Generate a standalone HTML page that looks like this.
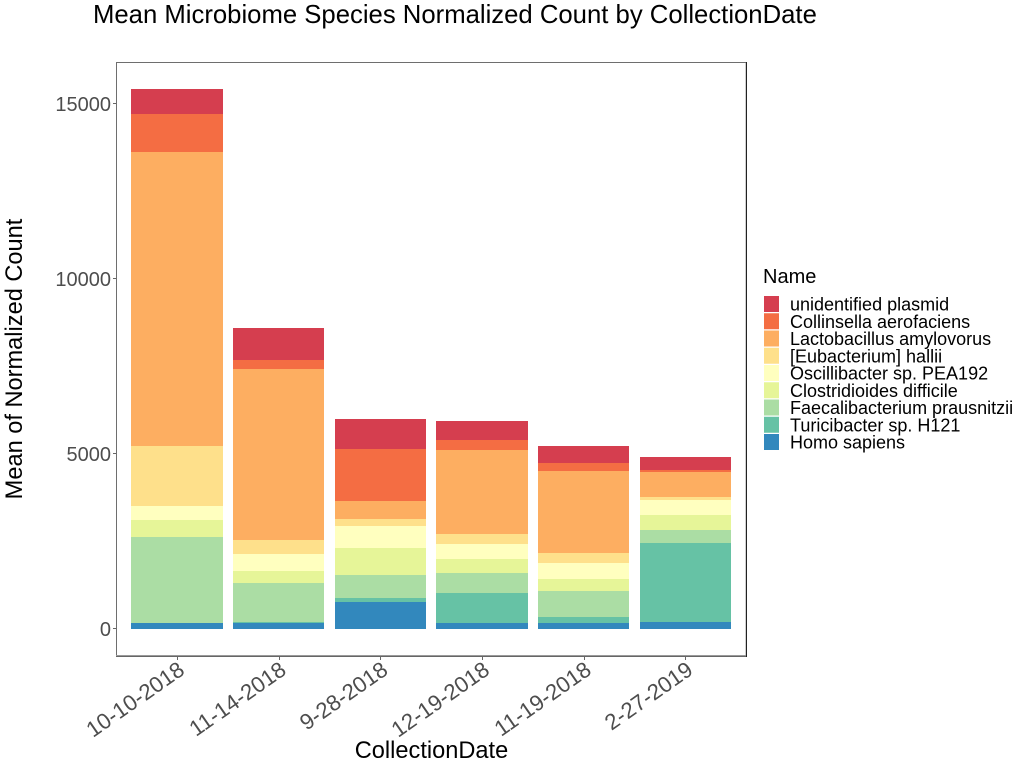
<!DOCTYPE html>
<html lang="en">
<head>
<meta charset="utf-8">
<title>Mean Microbiome Species Normalized Count by CollectionDate</title>
<style>
html,body{margin:0;padding:0;background:#fff;width:1024px;height:768px;overflow:hidden}
svg{display:block;font-family:"Liberation Sans",sans-serif}
</style>
</head>
<body>
<svg id="chart" width="1024" height="768" viewBox="0 0 1024 768" xmlns="http://www.w3.org/2000/svg"></svg>
<script>
const categories = ['10-10-2018','11-14-2018','9-28-2018','12-19-2018','11-19-2018','2-27-2019'];
const yTicks = [0,5000,10000,15000];
const yTickLabels = ['0','5000','10000','15000'];
const seriesNames = ['unidentified plasmid','Collinsella aerofaciens','Lactobacillus amylovorus','[Eubacterium] hallii','Oscillibacter sp. PEA192','Clostridioides difficile','Faecalibacterium prausnitzii','Turicibacter sp. H121','Homo sapiens'];
const seriesColors = ['#D53E4F','#F46D43','#FDAE61','#FEE08B','#FFFFBF','#E6F598','#ABDDA4','#66C2A5','#3288BD'];
const unidentifiedPlasmid = [714,914,857,543,486,371];
const collinsellaAerofaciens = [1086,257,1486,286,229,57];
const lactobacillusAmylovorus = [8400,4886,514,2400,2343,714];
const eubacteriumHallii = [1714,400,200,286,286,86];
const oscillibacterPEA192 = [400,486,629,429,457,429];
const clostridioidesDifficile = [486,343,771,400,343,429];
const faecalibacteriumPrausnitzii = [2457,1114,657,571,743,371];
const turicibacterH121 = [0,29,114,857,171,2257];
const homoSapiens = [171,171,771,171,171,200];
const seriesValues = [unidentifiedPlasmid,collinsellaAerofaciens,lactobacillusAmylovorus,eubacteriumHallii,oscillibacterPEA192,clostridioidesDifficile,faecalibacteriumPrausnitzii,turicibacterH121,homoSapiens];

const NS = 'http://www.w3.org/2000/svg';
const svg = document.getElementById('chart');
const panel = {left:116, right:746, top:62, bottom:656};
const bandStep = 101.68;
const bandWidth = 91.5;
function xScale(i){ return 177 + bandStep * i; }
function yScale(v){ return 629 - v * 0.035; }
function add(tag, attrs, parent, text){
  const el = document.createElementNS(NS, tag);
  for (const k in attrs) el.setAttribute(k, attrs[k]);
  if (text !== undefined) el.textContent = text;
  (parent || svg).appendChild(el);
  return el;
}
function slug(s){ return s.toLowerCase().replace(/[^a-z0-9]+/g,'-').replace(/^-|-$/g,''); }

const title = add('text', {x:93, y:23, 'font-size':25.7, fill:'#000'}, svg, 'Mean Microbiome Species Normalized Count by CollectionDate');



const barsGroup = add('g', {'shape-rendering':'crispEdges'});


categories.forEach(function(cat, i){
  let cumulative = 0;
  const x1 = Math.round(xScale(i) - bandWidth / 2);
  const x2 = Math.round(xScale(i) + bandWidth / 2);
  for (let s = seriesValues.length - 1; s >= 0; s--) {
    const v = seriesValues[s][i];
    const y1 = Math.round(yScale(cumulative));
    const y2 = Math.round(yScale(cumulative + v));
    cumulative += v;
    const bar = add('rect', {x:x1, y:y2, width:x2 - x1, height:y1 - y2, fill:seriesColors[s]}, barsGroup);
    
    
  }
});

const frame = add('g', {'stroke-width':1, 'shape-rendering':'crispEdges'});


add('line', {x1:116.5, x2:116.5, y1:62, y2:657, stroke:'#6e6e6e'}, frame);
add('line', {x1:116, x2:747, y1:62.5, y2:62.5, stroke:'#6e6e6e'}, frame);
add('line', {x1:116, x2:746, y1:655.5, y2:655.5, stroke:'#9a9a9a'}, frame);
add('line', {x1:116, x2:747, y1:656.5, y2:656.5, stroke:'#666'}, frame);
add('line', {x1:745.5, x2:745.5, y1:63, y2:655, stroke:'#cfcfcf'}, frame);
add('line', {x1:746.5, x2:746.5, y1:62, y2:657, stroke:'#222'}, frame);

yTicks.forEach(function(t, i){
  const y = yScale(t);
  const tick = add('line', {x1:panel.left - 3, x2:panel.left, y1:Math.round(y) - 0.5, y2:Math.round(y) - 0.5, stroke:'#666', 'stroke-width':1});
  
  
  const label = add('text', {x:panel.left - 5, y:y + 7, 'text-anchor':'end', 'font-size':20, fill:'#4D4D4D'}, svg, yTickLabels[i]);
  
  
});

categories.forEach(function(cat, i){
  const x = xScale(i);
  const tick = add('line', {x1:Math.round(x) + 0.5, x2:Math.round(x) + 0.5, y1:panel.bottom + 1, y2:panel.bottom + 4, stroke:'#666', 'stroke-width':1});
  
  
  const label = add('text', {transform:'translate(' + (x + 9) + ',673) rotate(-35)', 'text-anchor':'end', 'font-size':22.2, fill:'#4D4D4D'}, svg, cat);
  
  
});

const xTitle = add('text', {x:431.5, y:758, 'text-anchor':'middle', 'font-size':23.6, fill:'#000'}, svg, 'CollectionDate');


const yTitle = add('text', {transform:'translate(22,359) rotate(-90)', 'text-anchor':'middle', 'font-size':23.6, fill:'#000'}, svg, 'Mean of Normalized Count');



const legend = add('g', {});


const legendTitle = add('text', {x:763, y:283, 'font-size':20, fill:'#000'}, legend, 'Name');


seriesNames.forEach(function(name, i){
  const top = 296 + i * 17.25;
  const swatch = add('rect', {x:764, y:top, width:15, height:16, fill:seriesColors[i]}, legend);
  
  
  const label = add('text', {x:790, y:top + 14.5, 'font-size':18, fill:'#000'}, legend, name);
  
  
});
</script>
</body>
</html>
